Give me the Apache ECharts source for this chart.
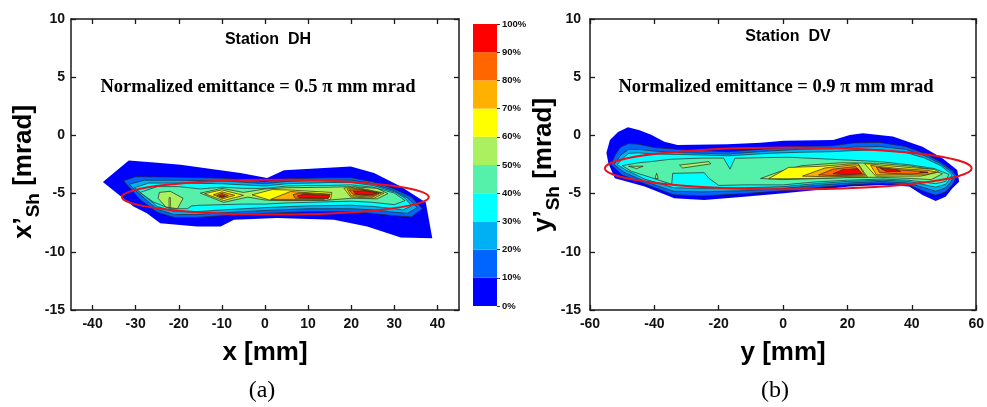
<!DOCTYPE html>
<html>
<head>
<meta charset="utf-8">
<script src="https://cdn.jsdelivr.net/npm/echarts@6/dist/echarts.min.js"></script>
<style>
  html, body { margin: 0; padding: 0; background: #fff; }
  #chart { width: 987px; height: 407px; }
</style>
</head>
<body>
<div id="chart"></div>
<script>
// Contour levels (fraction of peak intensity), one band per 10 %
const BAND_COLORS = ['#0000ff', '#0064ff', '#00b0f2', '#00ffff', '#55f0aa',
                     '#aaf05f', '#ffff00', '#ffb000', '#ff6600', '#ff0000'];
const BAND_STEPS = [10, 10, 10, 10, 10, 10, 10, 10, 10, 10];
const CBAR_TICKS = [0, 10, 20, 30, 40, 50, 60, 70, 80, 90, 100];

const DH_X_TICKS = [-40, -30, -20, -10, 0, 10, 20, 30, 40];
const DV_X_TICKS = [-60, -40, -20, 0, 20, 40, 60];
const Y_TICKS = [-15, -10, -5, 0, 5, 10];

// Station DH: contour polygons [x mm, x' mrad], level 0 = lowest
const DH_L0 = [[[-37.6,-4.0],[-31.6,-2.15],[-25,-2.35],[-19.6,-2.52],[-5.7,-3.24],[0.5,-3.67],[4.4,-3.0],[19.9,-2.67],[25.3,-3.24],[31.5,-4.4],[37.3,-5.77],[38.8,-8.83],[31.5,-8.78],[23.7,-7.83],[16.0,-7.25],[2.8,-7.1],[-7.2,-7.25],[-10.3,-7.83],[-15.7,-7.83],[-24.3,-7.54],[-27.4,-6.68],[-30.5,-6.11]]];
const DH_L1 = [[[-32.8,-3.9],[-30,-3.55],[-20,-3.6],[-10,-3.68],[0,-3.95],[5,-3.73],[15,-3.64],[20,-3.64],[25,-3.98],[30,-4.6],[34,-5.3],[36.5,-6.3],[34,-7.0],[30,-6.9],[25,-6.7],[20,-6.55],[10,-6.55],[0,-6.7],[-10,-6.9],[-16,-7.05],[-21,-7.05],[-25,-6.6],[-29,-5.5]]];
const DH_L2 = [[[-31.5,-4.2],[-28,-3.85],[-20,-3.85],[-10,-3.9],[0,-4.15],[5,-3.95],[15,-3.85],[20,-3.85],[25,-4.15],[30,-4.75],[33,-5.35],[35.3,-6.2],[33,-6.7],[30,-6.6],[25,-6.4],[20,-6.3],[10,-6.3],[0,-6.45],[-10,-6.65],[-16,-6.8],[-21,-6.8],[-25,-6.35],[-28,-5.4]]];
const DH_L3 = [[[-30.3,-4.5],[-27,-4.1],[-20,-4.1],[-10,-4.15],[0,-4.35],[5,-4.15],[15,-4.05],[20,-4.05],[25,-4.3],[30,-4.85],[32.5,-5.4],[34,-6.05],[32,-6.4],[30,-6.3],[25,-6.1],[20,-6.0],[10,-6.05],[0,-6.2],[-10,-6.4],[-16,-6.55],[-21,-6.55],[-25,-6.1],[-27.5,-5.3]]];
const DH_L4 = [[[-29,-4.9],[-25,-4.4],[-20,-4.4],[-15,-4.6],[-10,-4.45],[-5,-4.55],[0,-4.55],[5,-4.35],[10,-4.3],[15,-4.3],[20,-4.25],[25,-4.45],[30,-4.95],[32.5,-5.6],[30,-5.95],[25,-5.75],[20,-5.65],[15,-5.7],[10,-5.75],[5,-5.8],[0,-5.9],[-5,-5.9],[-10,-5.95],[-15,-6.0],[-17,-6.05],[-18,-6.3],[-22,-6.3],[-26,-5.7]]];
const DH_L5 = [
  [[-24.5,-4.9],[-22,-4.8],[-19,-5.4],[-20.3,-6.3],[-23,-6.15],[-24.8,-5.4]],
  [[-15,-4.96],[-10,-4.55],[-5,-4.9],[0,-4.6],[5,-4.5],[15,-4.45],[20,-4.4],[26,-4.55],[28.5,-5.0],[26,-5.45],[20,-5.4],[15,-5.55],[5,-5.6],[0,-5.55],[-4,-5.3],[-9.6,-5.75]]
];
const DH_L6 = [
  [[-22.25,-5.35],[-21.95,-5.35],[-21.95,-6.2],[-22.25,-6.2]],
  [[-14,-5.0],[-10,-4.68],[-5,-5.15],[-9.6,-5.6]],
  [[-3,-5.1],[1.7,-4.65],[6,-4.7],[15.5,-4.9],[15.2,-5.5],[13.7,-5.6],[1,-5.55],[-0.3,-5.4]],
  [[18.3,-4.53],[21,-4.45],[27.6,-4.96],[25.3,-5.39],[19.9,-5.3]]
];
const DH_L7 = [
  [[-12,-5.1],[-10,-4.85],[-7,-5.15],[-9.8,-5.45]],
  [[1.3,-5.5],[5.9,-4.82],[15.2,-5.05],[13.7,-5.5]],
  [[19,-4.6],[21.5,-4.55],[27,-4.95],[25,-5.3],[20,-5.2]]
];
const DH_L8 = [
  [[-11.2,-5.15],[-10,-4.98],[-8.5,-5.18],[-9.9,-5.35]],
  [[6.5,-5.1],[8,-4.95],[15,-5.1],[14.5,-5.45],[7,-5.4]],
  [[19.5,-4.7],[22,-4.65],[26.5,-4.95],[25,-5.2],[20.5,-5.1]]
];
const DH_L9 = [
  [[-10.6,-5.2],[-10,-5.1],[-9.2,-5.22],[-10,-5.3]],
  [[7.5,-5.2],[9,-5.05],[15,-5.18],[14.8,-5.4],[8,-5.35]],
  [[20.5,-4.8],[23,-4.75],[26,-4.95],[25,-5.1],[21,-5.05]]
];

// Station DV: contour polygons [y mm, y' mrad]
const DV_L0 = [[[-54.3,-2.4],[-54.9,-1.5],[-53.8,-0.4],[-51.3,0.3],[-48.2,0.7],[-44.6,0.45],[-41,0.05],[-36.9,-0.55],[-32.8,-0.82],[-17.3,-0.75],[-7,-0.63],[0.2,-0.45],[15.6,-0.4],[20.7,0.03],[24.8,0.18],[34.1,-0.1],[43.3,-0.97],[49.5,-1.97],[54.1,-2.97],[54.7,-3.98],[52.6,-4.54],[50.5,-5.27],[47.4,-5.64],[43.3,-5.12],[39.2,-4.4],[31,-4.26],[20.7,-4.4],[10.4,-4.69],[0.2,-4.97],[-12.2,-5.27],[-24.5,-5.55],[-33.8,-5.4],[-43,-4.4],[-52.3,-3.69]]];
const DV_L1 = [[[-53.5,-2.5],[-52,-1.6],[-50.5,-1.0],[-48,-0.7],[-45,-0.75],[-40,-1.05],[-30,-1.25],[-17,-1.4],[-5,-1.15],[5,-0.95],[15,-0.9],[22,-0.65],[30,-0.6],[38,-0.95],[44,-1.55],[49,-2.3],[52.5,-3.0],[54,-3.5],[52.6,-4.25],[50.5,-4.85],[47.4,-5.15],[43.3,-4.75],[39,-4.25],[31,-4.1],[20,-4.25],[10,-4.5],[0,-4.75],[-12,-5.0],[-25,-5.2],[-34,-5.1],[-43,-4.15],[-50,-3.4]]];
const DV_L2 = [[[-52.5,-2.5],[-50.5,-1.7],[-48,-1.2],[-45,-1.2],[-40,-1.35],[-30,-1.5],[-17,-1.6],[-5,-1.35],[5,-1.2],[15,-1.15],[22,-1.0],[30,-0.95],[38,-1.2],[44,-1.75],[49,-2.45],[52,-3.05],[53.2,-3.45],[52,-4.05],[50.5,-4.5],[47.4,-4.8],[43.3,-4.45],[39,-4.1],[31,-3.95],[20,-4.1],[10,-4.3],[0,-4.55],[-12,-4.75],[-25,-4.85],[-34,-4.8],[-43,-3.95],[-49.5,-3.15]]];
const DV_L3 = [[[-51.5,-2.5],[-49.5,-1.9],[-48,-1.55],[-45,-1.5],[-40,-1.6],[-30,-1.65],[-17,-1.75],[-5,-1.55],[5,-1.45],[15,-1.4],[22,-1.3],[30,-1.25],[38,-1.45],[44,-1.95],[49,-2.6],[51.5,-3.15],[52.4,-3.4],[51.5,-3.85],[50.5,-4.2],[47.4,-4.45],[43.3,-4.2],[39,-3.95],[31,-3.85],[20,-3.95],[10,-4.15],[0,-4.4],[-12,-4.5],[-25,-4.55],[-34,-4.5],[-43,-3.75],[-49,-2.95]]];
const DV_L4 = [[[-50,-2.6],[-45,-2.35],[-41,-2.25],[-35,-2.05],[-25,-1.95],[-18.5,-1.95],[-16.5,-2.9],[-15,-1.97],[-5,-1.9],[2,-1.88],[15,-2.05],[30,-2.25],[40,-2.55],[47,-2.85],[51.5,-3.35],[50.5,-3.95],[47.4,-4.15],[43.3,-4.0],[39,-3.85],[31,-3.75],[20,-3.85],[10,-4.0],[0,-4.25],[-12,-4.25],[-20,-4.3],[-23,-3.7],[-24.5,-3.2],[-34.3,-3.26],[-34.6,-4.2],[-43,-3.45],[-47,-3.1]]];
const DV_L5 = [
  [[-48,-2.65],[-43.5,-2.65],[-45.5,-2.85]],
  [[-32.2,-2.55],[-23,-2.25],[-22.5,-2.45],[-31.2,-2.8]],
  [[-39.8,-3.7],[-39.3,-3.25],[-38.8,-3.7]],
  [[-7,-3.7],[-1,-3.1],[5.8,-2.6],[18,-2.35],[30,-2.4],[40,-2.65],[46,-2.9],[49.5,-3.3],[46,-3.8],[40,-3.7],[30,-3.6],[20,-3.6],[10,-3.72],[0,-3.8]]
];
const DV_L6 = [
  [[-4.5,-3.72],[1.7,-2.75],[12,-2.65],[23.2,-2.4],[26.2,-3.58],[12,-3.68],[1.7,-3.72]],
  [[25.3,-2.42],[38.7,-2.75],[47,-2.92],[48.3,-3.15],[42.8,-3.5],[28.8,-3.5]]
];
const DV_L7 = [
  [[6,-3.5],[13,-2.8],[22,-2.52],[23.5,-2.55],[25.6,-3.5],[14,-3.55]],
  [[27.2,-2.58],[36,-2.85],[45,-3.0],[47.6,-3.15],[44,-3.4],[36,-3.38],[29,-3.4]]
];
const DV_L8 = [
  [[11,-3.4],[15.5,-2.9],[22.5,-2.68],[25,-3.4],[16,-3.45]],
  [[29,-2.72],[36,-2.95],[42,-3.08],[45,-3.18],[40,-3.32],[34,-3.27],[30,-3.2]]
];
const DV_L9 = [
  [[15.5,-3.3],[18.5,-2.95],[23.2,-2.85],[24.5,-3.3],[20,-3.38]],
  [[30.2,-2.82],[34.8,-2.95],[36.5,-3.1],[32,-3.1]],
  [[42.5,-3.14],[45,-3.16],[45,-3.22],[42.5,-3.2]]
];

// Fitted rms ellipses: [centre, centre', semi-axis, semi-axis']
const DH_ELLIPSE = [2.4, -5.3, 35.6, 1.5];
const DV_ELLIPSE = [1.6, -2.83, 57, 1.8];

const DH_LEVELS = [DH_L0, DH_L1, DH_L2, DH_L3, DH_L4, DH_L5, DH_L6, DH_L7, DH_L8, DH_L9];
const DV_LEVELS = [DV_L0, DV_L1, DV_L2, DV_L3, DV_L4, DV_L5, DV_L6, DV_L7, DV_L8, DV_L9];

const SANS = '"Liberation Sans", Arial, sans-serif';
const SERIF = '"Liberation Serif", "Times New Roman", serif';
const INK = '#111';

function contourSeries(levels, axisIdx) {
  const polys = [];
  levels.forEach((list, k) => list.forEach(pts => polys.push({ k: k, pts: pts })));
  return {
    type: 'custom',
    xAxisIndex: axisIdx, yAxisIndex: axisIdx,
    silent: true, z: 2,
    data: polys.map(p => [p.pts[0][0], p.pts[0][1], p.k]),
    renderItem: function (params, api) {
      const p = polys[params.dataIndex];
      return {
        type: 'polygon',
        shape: { points: p.pts.map(pt => api.coord(pt)) },
        style: {
          fill: BAND_COLORS[p.k],
          stroke: p.k ? '#262626' : null,
          lineWidth: p.k ? 0.7 : 0
        }
      };
    }
  };
}

function ellipseSeries(e, axisIdx) {
  return {
    type: 'custom',
    xAxisIndex: axisIdx, yAxisIndex: axisIdx,
    silent: true, z: 5,
    data: [e],
    renderItem: function (params, api) {
      const c = api.coord([api.value(0), api.value(1)]);
      const s = api.size([api.value(2), api.value(3)]);
      return {
        type: 'ellipse',
        shape: { cx: c[0], cy: c[1], rx: s[0], ry: s[1] },
        style: { fill: null, stroke: '#e8121c', lineWidth: 2 }
      };
    }
  };
}

const lineStyle = { color: '#1a1a1a', width: 1.5 };
const tickStyle = { color: '#1a1a1a', width: 1.3 };
const labelStyle = { fontSize: 14, fontWeight: 'bold', color: INK, fontFamily: SANS };

function xAxes(grid, min, max, ticks, name) {
  return [
    {
      gridIndex: grid, type: 'value', min: min, max: max, position: 'bottom',
      axisLine: { show: true, onZero: false, lineStyle: lineStyle },
      axisTick: { show: true, inside: true, length: 5, customValues: ticks, lineStyle: tickStyle },
      axisLabel: Object.assign({ margin: 7, customValues: ticks }, labelStyle),
      splitLine: { show: false },
      name: name, nameLocation: 'middle', nameGap: 30,
      nameTextStyle: { fontSize: 26, fontWeight: 'bold', color: '#000', fontFamily: SANS }
    },
    {
      gridIndex: grid, type: 'value', min: min, max: max, position: 'top',
      axisLine: { show: true, onZero: false, lineStyle: lineStyle },
      axisTick: { show: true, inside: true, length: 5, customValues: ticks, lineStyle: tickStyle },
      axisLabel: { show: false },
      splitLine: { show: false }
    }
  ];
}

function yAxes(grid, margin) {
  return [
    {
      gridIndex: grid, type: 'value', min: -15, max: 10, interval: 5, position: 'left',
      axisLine: { show: true, onZero: false, lineStyle: lineStyle },
      axisTick: { show: true, inside: true, length: 5, customValues: Y_TICKS, lineStyle: tickStyle },
      axisLabel: Object.assign({ margin: margin, customValues: Y_TICKS }, labelStyle),
      splitLine: { show: false }
    },
    {
      gridIndex: grid, type: 'value', min: -15, max: 10, interval: 5, position: 'right',
      axisLine: { show: true, onZero: false, lineStyle: lineStyle },
      axisTick: { show: true, inside: true, length: 5, customValues: Y_TICKS, lineStyle: tickStyle },
      axisLabel: { show: false },
      splitLine: { show: false }
    }
  ];
}

function yName(x, y, base) {
  return {
    type: 'text', x: x, y: y, rotation: Math.PI / 2, silent: true,
    style: {
      text: '{m|' + base + '’}{s|Sh}{m| [mrad]}',
      align: 'center', verticalAlign: 'middle', fill: '#000',
      rich: {
        m: { fontSize: 26, fontWeight: 'bold', fontFamily: SANS, fill: '#000', lineHeight: 32, verticalAlign: 'top' },
        s: { fontSize: 19, fontWeight: 'bold', fontFamily: SANS, fill: '#000', verticalAlign: 'bottom' }
      }
    }
  };
}

function label(x, y, text, font) {
  return {
    type: 'text', x: x, y: y, silent: true,
    style: { text: text, font: font, fill: '#000', align: 'center', verticalAlign: 'middle' }
  };
}

const xa = xAxes(0, -45, 45, DH_X_TICKS, 'x [mm]')
  .concat(xAxes(1, -60, 60, DV_X_TICKS, 'y [mm]'))
  .concat([{ gridIndex: 2, type: 'category', data: ['level'], show: false, boundaryGap: true }]);

const ya = yAxes(0, 6).concat(yAxes(1, 9)).concat([{
  gridIndex: 2, type: 'value', min: 0, max: 100, position: 'right',
  axisLine: { show: false },
  axisTick: { show: true, inside: false, length: 3, customValues: CBAR_TICKS, lineStyle: { color: '#333', width: 1 } },
  axisLabel: { margin: 5, customValues: CBAR_TICKS, formatter: '{value}%', fontSize: 9.5, fontWeight: 'bold', color: INK, fontFamily: SANS },
  splitLine: { show: false }
}]);

const colorbar = BAND_COLORS.map((c, i) => ({
  type: 'bar', xAxisIndex: 4, yAxisIndex: 4, stack: 'levels', silent: true,
  barWidth: '100%', data: [BAND_STEPS[i]], itemStyle: { color: c }
}));

const option = {
  animation: false,
  backgroundColor: '#fff',
  grid: [
    { left: 71, top: 19, width: 388, height: 291 },
    { left: 590, top: 19, width: 389, height: 291 },
    { left: 473, top: 24, width: 24, height: 282 }
  ],
  xAxis: xa,
  yAxis: ya,
  series: [
    contourSeries(DH_LEVELS, 0),
    ellipseSeries(DH_ELLIPSE, 0),
    contourSeries(DV_LEVELS, 2),
    ellipseSeries(DV_ELLIPSE, 2)
  ].concat(colorbar),
  graphic: [
    label(268, 40, 'Station  DH', 'bold 16px ' + SANS),
    label(258, 87, 'Normalized emittance = 0.5 π mm mrad', 'bold 18.5px ' + SERIF),
    label(788, 37, 'Station  DV', 'bold 16px ' + SANS),
    label(776, 87, 'Normalized emittance = 0.9 π mm mrad', 'bold 18.5px ' + SERIF),
    label(262, 391, '(a)', '24px ' + SERIF),
    label(775, 391, '(b)', '24px ' + SERIF),
    yName(27, 172, 'x'),
    yName(547, 165, 'y')
  ]
};

const chart = echarts.init(document.getElementById('chart'), null, { renderer: 'canvas' });
chart.setOption(option);
</script>
</body>
</html>
